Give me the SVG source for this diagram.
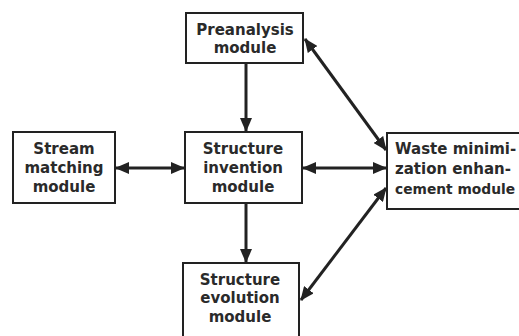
<svg xmlns="http://www.w3.org/2000/svg" width="519" height="336" viewBox="0 0 519 336">
<defs>
<style>
.box{fill:#fff;stroke:#222;stroke-width:2}
.lbl{font-family:"DejaVu Sans",sans-serif;font-weight:bold;font-size:15px;fill:#2a2a2a}
.c{text-anchor:middle}
.con{stroke:#222;stroke-width:3;fill:none}
</style>
<marker id="ah" viewBox="0 0 14 12" refX="13" refY="6" markerWidth="14" markerHeight="12" markerUnits="userSpaceOnUse" orient="auto-start-reverse">
<path d="M0,0 L14,6 L0,12 z" fill="#222"/>
</marker>
</defs>
<rect width="519" height="336" fill="#fff"/>
<g id="connectors">
<line class="con" x1="246" y1="63" x2="246" y2="131" marker-end="url(#ah)"/>
<line class="con" x1="246" y1="203" x2="246" y2="262" marker-end="url(#ah)"/>
<line class="con" x1="116" y1="168" x2="184" y2="168" marker-start="url(#ah)" marker-end="url(#ah)"/>
<line class="con" x1="303" y1="168" x2="386" y2="168" marker-start="url(#ah)" marker-end="url(#ah)"/>
<line class="con" x1="305" y1="39" x2="386" y2="150" marker-start="url(#ah)" marker-end="url(#ah)"/>
<line class="con" x1="301" y1="300" x2="386" y2="188" marker-start="url(#ah)" marker-end="url(#ah)"/>
</g>
<g id="preanalysis">
<rect class="box" x="186" y="13" width="117" height="50"/>
<text class="lbl c" x="245" y="35">Preanalysis</text>
<text class="lbl c" x="245" y="53">module</text>
</g>
<g id="stream">
<rect class="box" x="13" y="132" width="102" height="71"/>
<text class="lbl c" x="64" y="154">Stream</text>
<text class="lbl c" x="64" y="173">matching</text>
<text class="lbl c" x="64" y="192">module</text>
</g>
<g id="invention">
<rect class="box" x="185" y="132" width="117" height="71"/>
<text class="lbl c" x="243" y="154">Structure</text>
<text class="lbl c" x="243" y="173">invention</text>
<text class="lbl c" x="243" y="192">module</text>
</g>
<g id="waste">
<rect class="box" x="387" y="133" width="150" height="76"/>
<text class="lbl" x="395" y="154">Waste minimi-</text>
<text class="lbl" x="395" y="174">zation enhan-</text>
<text class="lbl" x="395" y="194" style="font-size:13.8px">cement module</text>
</g>
<g id="evolution">
<rect class="box" x="183" y="263" width="116" height="80"/>
<text class="lbl c" x="240" y="285">Structure</text>
<text class="lbl c" x="240" y="303">evolution</text>
<text class="lbl c" x="240" y="322">module</text>
</g>
</svg>
